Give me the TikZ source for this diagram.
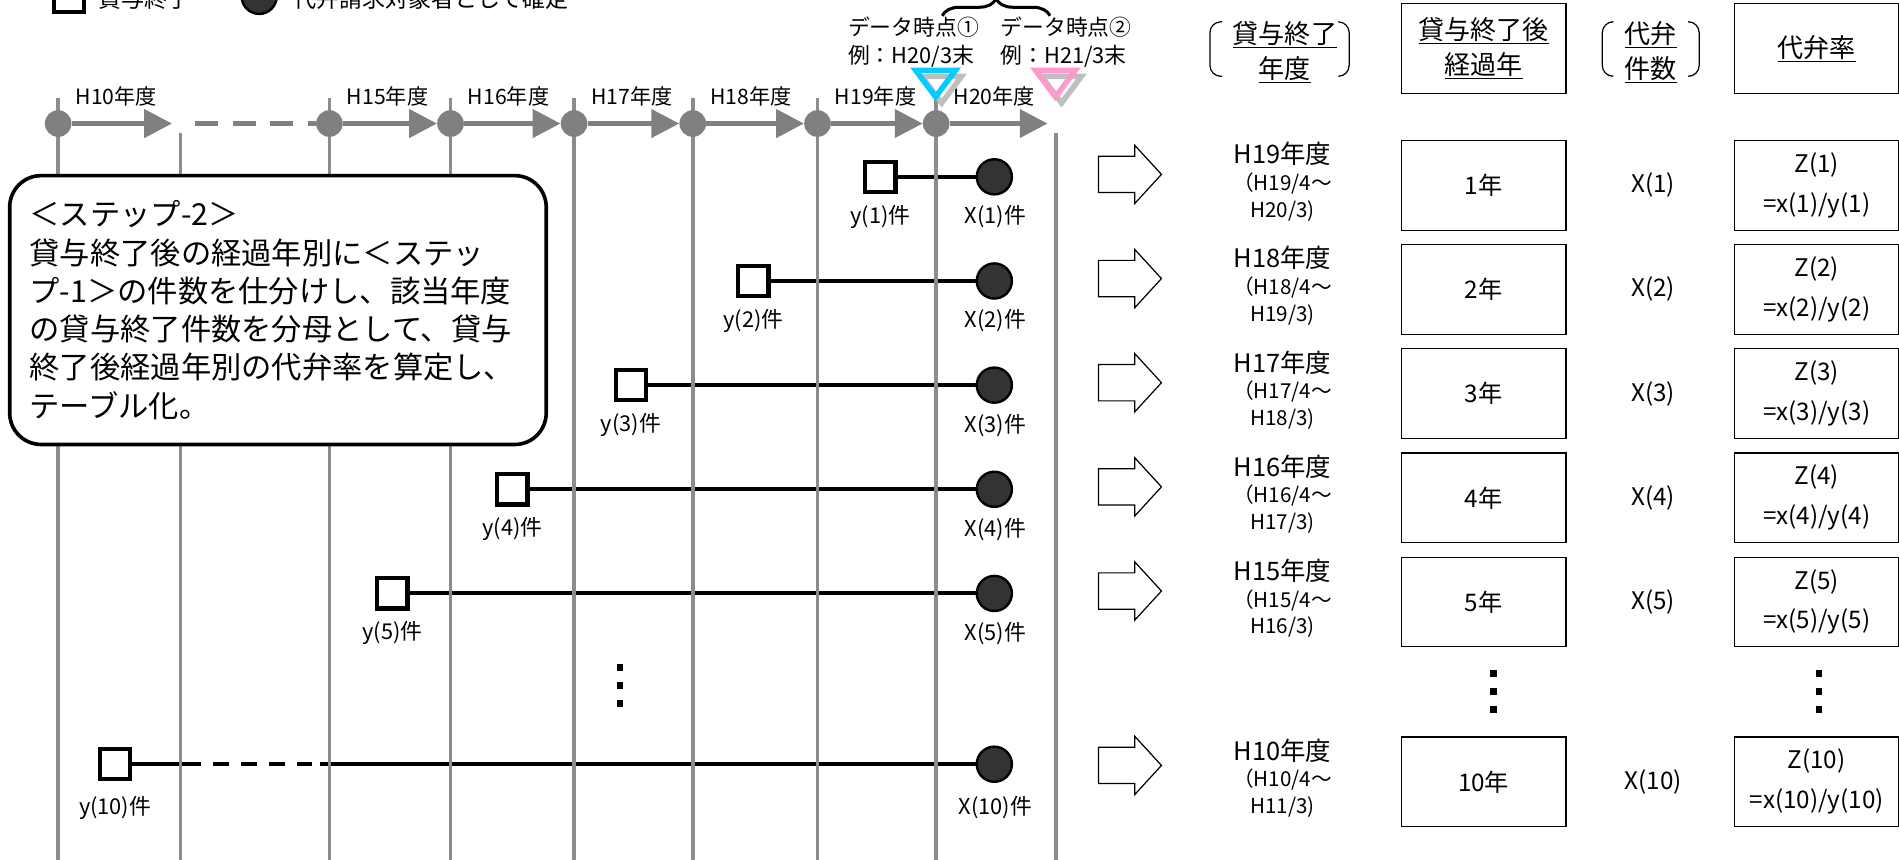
\documentclass[tikz,border=0pt]{standalone}
\usepackage{fontspec}
\setmainfont{Noto Sans CJK JP}
\usepackage{tikz}
\usetikzlibrary{arrows.meta,decorations.pathreplacing,positioning}

\definecolor{axisgray}{HTML}{808080}
\definecolor{linegray}{HTML}{8C8C8C}
\definecolor{dotdark}{HTML}{333333}
\definecolor{markcyan}{HTML}{00CCFF}
\definecolor{markpink}{HTML}{FF99CC}
\definecolor{shadowgray}{HTML}{BFBFBF}

\newcommand{\fsz}[2]{\fontsize{#1}{#2}\selectfont}

\begin{document}
\begin{tikzpicture}[x=1pt,y=-1pt,
	axisline/.style={axisgray,line width=4},
	axisarrow/.style={axisline,-{Triangle[length=23pt,width=23pt]}},
	gridline/.style={linegray,line width=3},
	tdot/.style={circle,fill=axisgray,inner sep=0,minimum size=22},
	sqbox/.style={draw,line width=3.5,fill=white,inner sep=0,minimum size=25},
	enddot/.style={circle,draw,line width=2,fill=dotdark,inner sep=0,minimum size=29},
	conn/.style={line width=3.3},
	lbl/.style={font=\fsz{18}{22},inner sep=0},
	tlbl/.style={font=\fsz{17.5}{20},inner sep=0},
	cellbox/.style={draw,line width=1,inner sep=0,minimum width=136,minimum height=74,align=center},
	hdr/.style={font=\fsz{21.5}{29},inner sep=0,align=center},
	yearlbl/.style={font=\fsz{17}{22},inner sep=0,align=center},
	blockarrow/.style={draw,line width=1,fill=white},
	note/.style={draw,line width=3,fill=white,rounded corners=26,minimum width=443,minimum height=222,
		text width=410,inner xsep=16.5,align=left,font=\fsz{25}{31.6}}]
	\useasboundingbox (0,0) rectangle (1568,710);
	
	%LEGEND
	\node[sqbox] (lgsq) at (57,-2.5) {};
	\node[anchor=west,inner sep=0,font=\fsz{19}{22}] (lgsqt) at (81,-1) {貸与終了};
	\node[enddot] (lgdot) at (214,-3) {};
	\node[anchor=west,inner sep=0,font=\fsz{19}{22}] (lgdott) at (242,-1) {代弁請求対象者として確定};
	
	%ROWS
	\foreach \n/\sx in {1/727,2/622,3/521,4/423,5/324}{
		\pgfmathsetmacro{\ty}{146+86*(\n-1)}
		\node[sqbox] (s\n) at (\sx,\ty) {};			%loan ended
		\node[enddot] (c\n) at (821,\ty) {};		%claim fixed
		\node[lbl] (ys\n) at (\sx,\ty+33) {y(\n)件};
		\node[lbl] (xs\n) at (822,\ty+33) {X(\n)件};
		\draw[conn] (s\n) -- (c\n);
	}
	\node[sqbox] (s10) at (95,631) {};
	\node[enddot] (c10) at (821,631) {};
	\node[lbl] (ys10) at (95,667) {y(10)件};
	\node[lbl] (xs10) at (822,667) {X(10)件};
	\coordinate (g1) at (166,631);
	\coordinate (g2) at (264,631);
	\draw[conn] (s10) -- (g1);
	\draw[conn,dash pattern=on 13pt off 10pt,dash phase=13pt] (g1) -- (g2);
	\draw[conn] (g2) -- (c10);
	\foreach \dy in {0,15,30} \fill (509.25,548.25+\dy) rectangle ++(5.5,5.5);	%dots
	
	%GRID
	\foreach \x in {48,272,372,474,572,675,773} \draw[gridline] (\x,81)--(\x,715);
	\foreach \x in {149,872} \draw[gridline] (\x,110)--(\x,715);
	
	%TIMELINE
	\foreach \yy/\tx in {10/48,15/272,16/372,17/474,18/572,19/675,20/773}{
		\node[tdot] (t\yy) at (\tx,102) {};
		\node[tlbl] (l\yy) at (\tx+48,80) {H\yy 年度};
	}
	\coordinate (e10) at (142,102);
	\coordinate (d1) at (161,102);
	\coordinate (e20) at (865,102);
	\draw[axisarrow] (t10) -- (e10);
	\draw[axisline,dash pattern=on 19pt off 12pt] (d1) -- (t15);
	\foreach \a/\b in {15/16,16/17,17/18,18/19,19/20} \draw[axisarrow] (t\a) -- (t\b);
	\draw[axisarrow] (t20) -- (e20);
	
	%DATA POINTS
	\node[anchor=west,inner sep=0,align=left,font=\fsz{18}{23}] (dp1) at (700,34.5) {データ時点①\\例：H20/3末};
	\node[anchor=west,inner sep=0,align=left,font=\fsz{18}{23}] (dp2) at (826,34.5) {データ時点②\\例：H21/3末};
	\draw[shadowgray,line width=4.5] (761,63) -- (794,63) -- (777.5,85) -- cycle;
	\draw[markcyan,line width=4.5] (756,58) -- (789,58) -- (772.5,80) -- cycle;
	\draw[shadowgray,line width=4.5] (860,63) -- (893,63) -- (876.5,85) -- cycle;
	\draw[markpink,line width=4.5] (855,58) -- (888,58) -- (871.5,80) -- cycle;
	\draw[line width=2.5,decorate,decoration={brace,amplitude=14pt}] (778,13) -- (867,13);
	
	%STEP 2
	\node[note] (step2) at (229.5,256) {＜ステップ-2＞\\貸与終了後の経過年別に＜ステッ\\プ-1＞の件数を仕分けし、該当年度\\の貸与終了件数を分母として、貸与\\終了後経過年別の代弁率を算定し、\\テーブル化。};
	
	%TABLE HEAD
	\node[hdr] (hyear) at (1061,43) {\underline{貸与終了}\\\underline{年度}};
	\draw[line width=1,rounded corners=9] (1009,18) -- (999,18) -- (999,63) -- (1009,63);
	\draw[line width=1,rounded corners=9] (1105,18) -- (1114,18) -- (1114,63) -- (1105,63);
	\node[cellbox,font=\fsz{21.5}{29}] (hpass) at (1225,40) {\underline{貸与終了後}\\\underline{経過年}};
	\node[hdr] (hcnt) at (1363,43) {\underline{代弁}\\\underline{件数}};
	\draw[line width=1,rounded corners=9] (1331,18) -- (1323,18) -- (1323,63) -- (1331,63);
	\draw[line width=1,rounded corners=9] (1395,18) -- (1403,18) -- (1403,63) -- (1395,63);
	\node[cellbox,font=\fsz{21.5}{29}] (hrate) at (1500,40) {\underline{代弁率}};
	
	%TABLE ROWS
	\foreach \n/\yr in {1/19,2/18,3/17,4/16,5/15}{
		\pgfmathsetmacro{\cy}{153+86*(\n-1)}
		\pgfmathtruncatemacro{\nyr}{\yr+1}
		\draw[blockarrow] (907,\cy-24) -- (937,\cy-24) -- (937,\cy-33) -- (959,\cy-9)
			-- (937,\cy+15) -- (937,\cy+6) -- (907,\cy+6) -- cycle;
		\node[yearlbl] (fy\n) at (1059,\cy-3) {{\fsz{21}{22}H\yr 年度}\\（H\yr/4～\\H\nyr/3)};
		\node[cellbox,font=\fsz{20}{24}] (k\n) at (1225,\cy) {\n 年};
		\node[font=\fsz{20}{24},inner sep=0] (x\n) at (1365,\cy) {X(\n)};
		\node[cellbox,font=\fsz{20}{33}] (z\n) at (1500,\cy) {Z(\n)\\=x(\n)/y(\n)};
	}
	\draw[blockarrow] (907,617) -- (937,617) -- (937,608) -- (959,632)
		-- (937,656) -- (937,647) -- (907,647) -- cycle;
	\node[yearlbl] (fy10) at (1059,642.5) {{\fsz{21}{22}H10年度}\\（H10/4～\\H11/3)};
	\node[cellbox,font=\fsz{20}{24}] (k10) at (1225,645.5) {10年};
	\node[font=\fsz{20}{24},inner sep=0] (x10) at (1365,645.5) {X(10)};
	\node[cellbox,font=\fsz{20}{33}] (z10) at (1500,645.5) {Z(10)\\=x(10)/y(10)};
	\foreach \dx in {1233,1502}
		\foreach \dy in {0,15,30} \fill (\dx-2.75,553.25+\dy) rectangle ++(5.5,5.5);
	
%	\draw[help lines] (0,0) grid[step=50] (1568,710);
\end{tikzpicture}
\end{document}
